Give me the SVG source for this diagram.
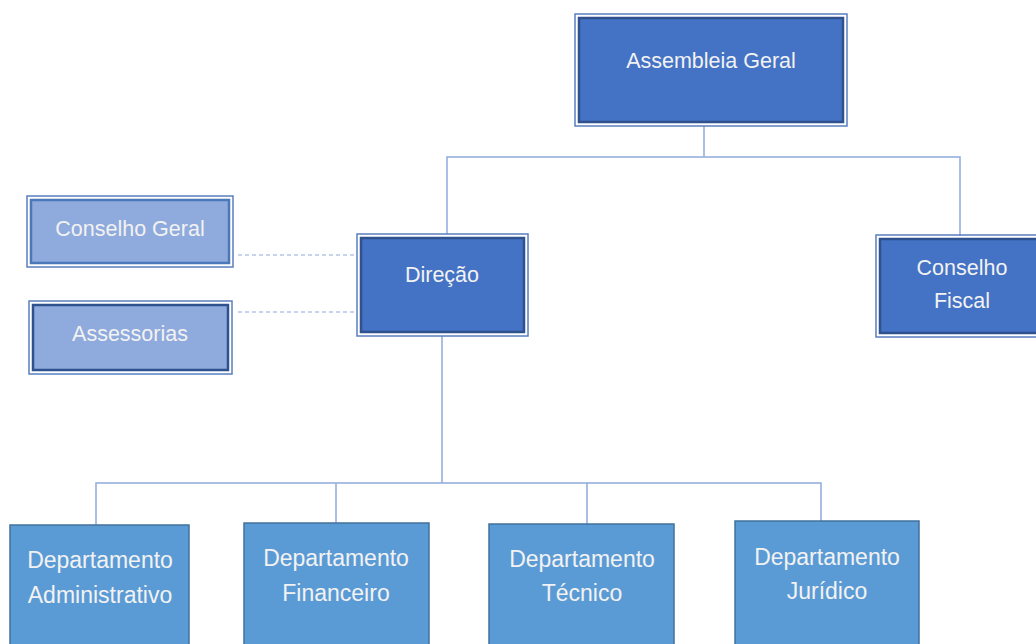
<svg xmlns="http://www.w3.org/2000/svg" width="1036" height="644" viewBox="0 0 1036 644">
<style>
.bg{fill:#ffffff}
.outer{fill:none;stroke:#5a7fbf;stroke-width:1.5}
.inner{stroke:#2f528f;stroke-width:2.5}
.dark{fill:#4472c4}
.light{fill:#8faadc}
.dept{fill:#5b9bd5;stroke:#41719c;stroke-width:1.5}
.t{font-family:"Liberation Sans",Arial,sans-serif;fill:#f2f2f2;text-anchor:middle}
.t20{font-size:21.5px}
.t21{font-size:23px}
.ln{fill:none;stroke:#8eaadb;stroke-width:1.5}
.dash{fill:none;stroke:#8eaadb;stroke-width:1.2;stroke-dasharray:4 3}
</style>
<rect class="bg" x="0" y="0" width="1036" height="644"/>
<g id="connectors">
<polyline class="ln" points="704,126 704,157"/>
<polyline class="ln" points="447,234 447,157 960,157 960,236"/>
<polyline class="ln" points="442,336 442,483"/>
<polyline class="ln" points="96,525 96,483 821,483 821,521"/>
<polyline class="ln" points="336,483 336,523"/>
<polyline class="ln" points="587,483 587,524"/>
<line class="dash" x1="238" y1="255" x2="354" y2="255"/>
<line class="dash" x1="238" y1="312" x2="354" y2="312"/>
</g>
<g id="assembleia">
<rect class="outer" x="575" y="14" width="272" height="112"/>
<rect class="dark inner" x="579" y="18" width="264" height="104"/>
<text class="t t20" x="711" y="68">Assembleia Geral</text>
</g>
<g id="direcao">
<rect class="outer" x="357" y="234" width="171" height="102"/>
<rect class="dark inner" x="361" y="238" width="163" height="94"/>
<text class="t t20" x="442" y="282">Direção</text>
</g>
<g id="conselho-fiscal">
<rect class="outer" x="876" y="235" width="170" height="102"/>
<rect class="dark inner" x="880" y="239" width="162" height="94"/>
<text class="t t20" x="962" y="275">Conselho</text>
<text class="t t20" x="962" y="308">Fiscal</text>
</g>
<g id="conselho-geral">
<rect class="outer" x="27" y="196" width="206" height="71"/>
<rect class="light inner" x="31" y="200" width="198" height="63" style="stroke:#4a78b8"/>
<text class="t t20" x="130" y="236">Conselho Geral</text>
</g>
<g id="assessorias">
<rect class="outer" x="29" y="301" width="203" height="73"/>
<rect class="light inner" x="33" y="305" width="195" height="65"/>
<text class="t t20" x="130" y="341">Assessorias</text>
</g>
<g id="dept-admin">
<rect class="dept" x="10" y="525" width="179" height="130"/>
<text class="t t21" x="100" y="568">Departamento</text>
<text class="t t21" x="100" y="603">Administrativo</text>
</g>
<g id="dept-fin">
<rect class="dept" x="244" y="523" width="185" height="130"/>
<text class="t t21" x="336" y="566">Departamento</text>
<text class="t t21" x="336" y="601">Financeiro</text>
</g>
<g id="dept-tec">
<rect class="dept" x="489" y="524" width="185" height="130"/>
<text class="t t21" x="582" y="567">Departamento</text>
<text class="t t21" x="582" y="601">Técnico</text>
</g>
<g id="dept-jur">
<rect class="dept" x="735" y="521" width="184" height="130"/>
<text class="t t21" x="827" y="565">Departamento</text>
<text class="t t21" x="827" y="599">Jurídico</text>
</g>
</svg>
